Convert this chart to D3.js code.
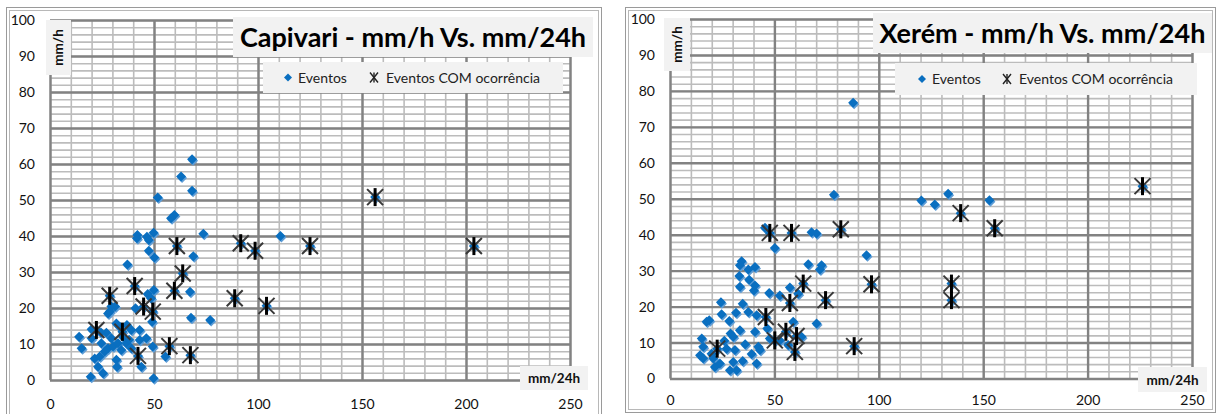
<!DOCTYPE html>
<html>
<head>
<meta charset="utf-8">
<script src="https://cdn.jsdelivr.net/npm/d3@7"></script>
<style>
  body { margin: 0; background: #fff; }
  svg { display: block; font-family: Lato, "Open Sans", sans-serif; }
</style>
</head>
<body>
<svg id="chart" width="1219" height="414"></svg>
<script>
// tick labels
var xTicks = [0, 50, 100, 150, 200, 250];
var yTicks = [0, 10, 20, 30, 40, 50, 60, 70, 80, 90, 100];

// Capivari - blue diamonds (mm/24h, mm/h)
var capivariEventos = [
    [68.3, 61.3], [63, 56.5], [68.3, 52.6], [51.8, 50.7], [59.8, 45.8], [58.2, 44.9],
    [42, 40.3], [41.8, 39.4], [46.6, 39.8], [47.5, 38.9], [49.8, 40.9], [73.7, 40.6],
    [110.8, 40], [47.5, 35.9], [50.2, 34], [68.9, 34.4], [37.2, 32.1], [67.3, 24.5],
    [49.9, 25], [47, 23.9], [48.6, 22.7], [29.5, 20.4], [27.9, 18.5], [41.1, 19.9],
    [49.1, 16.2], [67.8, 17.3], [77, 16.7], [14, 12], [15.2, 8.8], [20, 14.1],
    [20, 11.6], [27.1, 13.1], [31.9, 15.7], [37, 15.3], [39.1, 13.9], [43.1, 13.9],
    [46.3, 11.6], [49.4, 9.3], [24.7, 10.2], [27.9, 8.8], [30.3, 9.3], [32.7, 10.2],
    [34.3, 8.3], [36.7, 10.2], [39.1, 8.8], [21.5, 6], [23.9, 6.5], [26.3, 7.9],
    [31.9, 5.6], [32.2, 3.7], [23.1, 3.7], [25.5, 1.9], [19.6, 0.9], [43.9, 3.7],
    [55.5, 6.5], [49.8, 0.5], [43.1, 11.1], [35.1, 12], [29.5, 11.6], [28.8, 19],
    [31.3, 20.4], [33.5, 14.8], [24.5, 13.2], [38, 11.2], [61, 37.2], [63.8, 29.6],
    [40.7, 26.1], [59.8, 24.8], [28.7, 23.4], [45, 20.4], [49.4, 19], [91.7, 38],
    [98.6, 35.9], [88.8, 22.7], [104.1, 20.6], [22.3, 13.9], [34.8, 13.4], [57.4, 9.4],
    [42.3, 6.7], [67.5, 6.9], [156.3, 50.8], [203.8, 37.2], [125, 37.2]
];
// Capivari - events with occurrence (star markers)
var capivariOcorrencias = [
    [61, 37.2], [63.8, 29.6], [40.7, 26.1], [59.8, 24.8], [28.7, 23.4], [45, 20.4],
    [49.4, 19], [91.7, 38], [98.6, 35.9], [88.8, 22.7], [104.1, 20.6], [22.3, 13.9],
    [34.8, 13.4], [57.4, 9.4], [42.3, 6.7], [67.5, 6.9], [156.3, 50.8], [203.8, 37.2],
    [125, 37.2]
];

// Xerém - blue diamonds
var xeremEventos = [
    [87.7, 76.7], [78.5, 51.1], [120.4, 49.5], [126.8, 48.4], [133.2, 51.4], [153, 49.6],
    [94.1, 34.3], [67.8, 40.7], [70.2, 40.3], [45.5, 41.9], [50.2, 36.3], [66.2, 31.8],
    [72.6, 31.5], [71.8, 30.3], [57.4, 25.3], [61.4, 23.6], [47.5, 23.8], [52.6, 23.1],
    [34.3, 32.6], [33.5, 31.5], [37.5, 30.3], [40.7, 31], [33.2, 28.5], [37.9, 27.5],
    [33.5, 25.5], [40.7, 25.9], [40.2, 24.5], [24.4, 21.2], [34.8, 20.8], [31.6, 18.3],
    [37.5, 18.5], [41.5, 17.6], [24.7, 17.9], [18.8, 16.2], [17.5, 15.8], [28.4, 16],
    [59, 15.8], [70.2, 15.3], [33.5, 13.4], [29, 12.5], [30.3, 11.6], [40.7, 13],
    [46.6, 13.9], [47.8, 11.1], [52.6, 10.6], [56.6, 9.3], [63, 11.6], [15.2, 11.1],
    [15.9, 8.8], [14.4, 6.5], [15.9, 5.6], [27.1, 8.3], [31.1, 7.9], [21.5, 3.2],
    [23.9, 4.2], [28.7, 2.3], [31.9, 2.3], [30.3, 4.6], [34.8, 4.9], [41.5, 4.2],
    [39.1, 6.8], [42.3, 8.8], [43.1, 7.9], [19.9, 6.9], [20.7, 5.6], [36, 9.5],
    [26, 10.5], [58.2, 40.5], [47.8, 40.5], [63.8, 26.4], [57.4, 21], [74.5, 21.8],
    [45.9, 17.1], [55.5, 13], [60.6, 11.8], [50.2, 10.6], [59.8, 7.4], [22.6, 8.3],
    [88.2, 9], [96.5, 26.2], [81.8, 41.5], [139.2, 46], [155.5, 41.8], [134.8, 26.4],
    [134.8, 21.8], [226.3, 53.5]
];
// Xerém - events with occurrence
var xeremOcorrencias = [
    [58.2, 40.5], [47.8, 40.5], [63.8, 26.4], [57.4, 21], [74.5, 21.8], [45.9, 17.1],
    [55.5, 13], [60.6, 11.8], [50.2, 10.6], [59.8, 7.4], [22.6, 8.3], [88.2, 9],
    [96.5, 26.2], [81.8, 41.5], [139.2, 46], [155.5, 41.8], [134.8, 26.4], [134.8, 21.8],
    [226.3, 53.5]
];

var svg = d3.select("#chart");

var diamond = d3.symbol().type(d3.symbolSquare).size(50);

// star marker: X plus vertical bar
function drawStar(g, cx, cy) {
    g.append("path")
        .attr("d", "M-8,-8L8,8M-8,8L8,-8")
        .attr("transform", "translate(" + cx + "," + cy + ")")
        .attr("stroke", "#383838")
        .attr("stroke-width", 2)
        .attr("fill", "none");
    g.append("line")
        .attr("x1", cx).attr("x2", cx)
        .attr("y1", cy - 9).attr("y2", cy + 9)
        .attr("stroke", "#000")
        .attr("stroke-width", 3);
}

function drawChart(c) {
    var g = svg.append("g");

    // double border
    g.append("rect").attr("x", c.border[0]).attr("y", c.border[1])
        .attr("width", c.border[2] - c.border[0]).attr("height", c.border[3] - c.border[1])
        .attr("fill", "#fff").attr("stroke", "#9a9a9a").attr("stroke-width", 1);
    g.append("rect").attr("x", c.border[0] + 3).attr("y", c.border[1] + 3)
        .attr("width", c.border[2] - c.border[0] - 6).attr("height", c.border[3] - c.border[1] - 6)
        .attr("fill", "none").attr("stroke", "#b8b8b8").attr("stroke-width", 1);

    var x = d3.scaleLinear().domain([0, 250]).range([c.left, c.right]);
    var y = d3.scaleLinear().domain([0, 100]).range([c.bottom, c.top]);
    var w = c.right - c.left, h = c.bottom - c.top;

    // minor grid
    g.append("g").attr("transform", "translate(0," + c.bottom + ")")
        .call(d3.axisBottom(x).tickValues(d3.range(0, 251, 10)).tickSize(-h).tickFormat(""))
        .call(function (a) { a.select(".domain").remove(); a.selectAll("line").attr("stroke", "#bcbcbc").attr("stroke-width", 1.6); });
    g.append("g").attr("transform", "translate(" + c.left + ",0)")
        .call(d3.axisLeft(y).tickValues(d3.range(0, 101, 2)).tickSize(-w).tickFormat(""))
        .call(function (a) { a.select(".domain").remove(); a.selectAll("line").attr("stroke", "#bcbcbc").attr("stroke-width", 1.6); });
    // major grid
    g.append("g").attr("transform", "translate(0," + c.bottom + ")")
        .call(d3.axisBottom(x).tickValues(xTicks).tickSize(-h).tickFormat(""))
        .call(function (a) { a.select(".domain").remove(); a.selectAll("line").attr("stroke", "#828282").attr("stroke-width", 2.4); });
    g.append("g").attr("transform", "translate(" + c.left + ",0)")
        .call(d3.axisLeft(y).tickValues(yTicks).tickSize(-w).tickFormat(""))
        .call(function (a) { a.select(".domain").remove(); a.selectAll("line").attr("stroke", "#828282").attr("stroke-width", 2.4); });

    // tick labels
    g.append("g").attr("transform", "translate(0," + c.bottom + ")")
        .call(d3.axisBottom(x).tickValues(xTicks).tickSize(0).tickPadding(c.xPad))
        .call(function (a) {
            a.select(".domain").remove();
            a.selectAll("text").attr("font-size", 14).attr("fill", "#111").attr("font-family", "Lato, sans-serif");
        });
    g.append("g").attr("transform", "translate(" + c.left + ",0)")
        .call(d3.axisLeft(y).tickValues(yTicks).tickSize(0).tickPadding(15))
        .call(function (a) {
            a.select(".domain").remove();
            a.selectAll("text").attr("font-size", 14).attr("fill", "#111").attr("font-family", "Lato, sans-serif");
        });

    // blue diamonds (with soft shadow)
    var pts = g.append("g");
    pts.selectAll(".shadow")
        .data(c.eventos)
        .enter()
        .append("path")
        .attr("class", "shadow")
        .attr("d", diamond)
        .attr("transform", function (d) { return "translate(" + (x(d[0]) + 1) + "," + (y(d[1]) + 1.5) + ") rotate(45)"; })
        .attr("fill", "#5e9dd6");
    pts.selectAll(".ev")
        .data(c.eventos)
        .enter()
        .append("path")
        .attr("class", "ev")
        .attr("d", diamond)
        .attr("transform", function (d) { return "translate(" + x(d[0]) + "," + y(d[1]) + ") rotate(45)"; })
        .attr("fill", "#0a6fc0");

    var stars = g.append("g");
    c.ocorr.forEach(function (d) { drawStar(stars, x(d[0]), y(d[1])); });

    // y axis title
    var b = c.yTitleBox;
    g.append("rect").attr("x", b[0]).attr("y", b[1]).attr("width", b[2] - b[0]).attr("height", b[3] - b[1]).attr("fill", "#f2f2f2");
    g.append("text")
        .attr("transform", "translate(" + ((b[0] + b[2]) / 2 + 4.5) + "," + ((b[1] + b[3]) / 2) + ") rotate(-90)")
        .attr("text-anchor", "middle")
        .attr("font-size", 13.5).attr("font-weight", "bold").attr("fill", "#111")
        .text("mm/h");

    // x axis title
    b = c.xTitleBox;
    g.append("rect").attr("x", b[0]).attr("y", b[1]).attr("width", b[2] - b[0]).attr("height", b[3] - b[1]).attr("fill", "#f2f2f2");
    g.append("text")
        .attr("x", (b[0] + b[2]) / 2).attr("y", (b[1] + b[3]) / 2 + 5)
        .attr("text-anchor", "middle")
        .attr("font-size", 13.5).attr("font-weight", "bold").attr("fill", "#111")
        .text("mm/24h");

    // chart title
    b = c.titleBox;
    g.append("rect").attr("x", b[0]).attr("y", b[1]).attr("width", b[2] - b[0]).attr("height", b[3] - b[1]).attr("fill", "#f2f2f2");
    g.append("text")
        .attr("x", (b[0] + b[2]) / 2).attr("y", b[3] - 10)
        .attr("text-anchor", "middle")
        .attr("font-size", 27).attr("font-weight", "bold").attr("fill", "#000")
        .text(c.title);

    // legend
    b = c.legendBox;
    g.append("rect").attr("x", b[0]).attr("y", b[1]).attr("width", b[2] - b[0]).attr("height", b[3] - b[1]).attr("fill", "#f2f2f2");
    var ly = (b[1] + b[3]) / 2;
    g.append("path").attr("d", d3.symbol().type(d3.symbolSquare).size(32))
        .attr("transform", "translate(" + c.legendX[0] + "," + ly + ") rotate(45)")
        .attr("fill", "#0a6fc0");
    g.append("text").attr("x", c.legendX[0] + 10).attr("y", ly + 5)
        .attr("font-size", 14).attr("fill", "#222").text("Eventos");
    g.append("path").attr("d", "M-4,-5L4,5M-4,5L4,-5")
        .attr("transform", "translate(" + c.legendX[1] + "," + ly + ")")
        .attr("stroke", "#222").attr("stroke-width", 1.4).attr("fill", "none");
    g.append("line").attr("x1", c.legendX[1]).attr("x2", c.legendX[1])
        .attr("y1", ly - 5).attr("y2", ly + 5).attr("stroke", "#222").attr("stroke-width", 1.4);
    g.append("text").attr("x", c.legendX[1] + 12).attr("y", ly + 5)
        .attr("font-size", 14).attr("fill", "#222").text("Eventos COM ocorrência");
}

drawChart({
    title: "Capivari - mm/h Vs. mm/24h",
    eventos: capivariEventos, ocorr: capivariOcorrencias,
    border: [6.5, 7.5, 601.5, 422],
    left: 50, right: 570, top: 20, bottom: 380, xPad: 19,
    yTitleBox: [46, 20, 71, 75],
    xTitleBox: [520, 366, 588, 390],
    titleBox: [233, 17, 593, 57],
    legendBox: [263, 62, 563, 93],
    legendX: [288, 374]
});

drawChart({
    title: "Xerém - mm/h Vs. mm/24h",
    eventos: xeremEventos, ocorr: xeremOcorrencias,
    border: [625.5, 7.5, 1215.5, 412.5],
    left: 670, right: 1192, top: 19, bottom: 378.5, xPad: 16.5,
    yTitleBox: [664, 18, 690, 71],
    xTitleBox: [1138, 367, 1207, 392],
    titleBox: [873, 13, 1212, 53],
    legendBox: [895, 63, 1197, 95],
    legendX: [922, 1007]
});
</script>
</body>
</html>
